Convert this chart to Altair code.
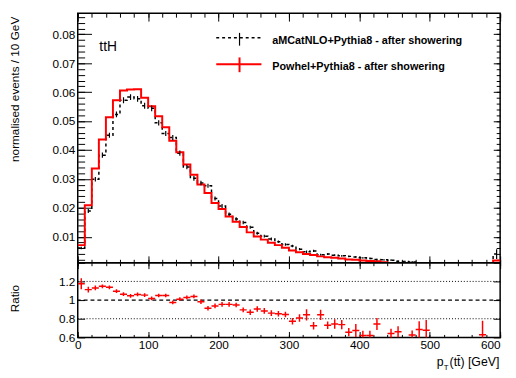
import altair as alt
import pandas as pd

# ---------------- data ----------------
bin_lo = list(range(0, 600, 10))

powheg = [0.0071, 0.0209, 0.0336, 0.0436, 0.0513, 0.0572, 0.0606, 0.0609, 0.0610, 0.0581,
          0.0551, 0.0517, 0.0479, 0.0432, 0.0392, 0.0350, 0.0314, 0.0281, 0.0251, 0.0217,
          0.0196, 0.0170, 0.0152, 0.0134, 0.0115, 0.0101, 0.0090, 0.0079, 0.0071, 0.0062,
          0.0052, 0.0046, 0.0040, 0.0037, 0.0032, 0.0029, 0.0027, 0.0025, 0.0021, 0.0020,
          0.0018, 0.0016, 0.0015, 0.0012, 0.0009, 0.0008, 0.0007, 0.0006, 0.0006, 0.0005,
          0.0004, 0.0004, 0.0003, 0.0003, 0.0003, 0.0002, 0.0002, 0.0002, 0.0002, 0.0018]

amcatnlo = [0.0061, 0.0189, 0.0299, 0.0382, 0.0451, 0.0523, 0.0572, 0.0583, 0.0577, 0.0553,
            0.0544, 0.0494, 0.0457, 0.0443, 0.0389, 0.0341, 0.0302, 0.0286, 0.0276, 0.0232,
            0.0206, 0.0178, 0.0161, 0.0149, 0.0133, 0.0112, 0.0102, 0.0092, 0.0083, 0.0073,
            0.0068, 0.0057, 0.0048, 0.0051, 0.0038, 0.0040, 0.0036, 0.0034, 0.0032, 0.0030,
            0.0027, 0.0025, 0.0021, 0.0020, 0.0019, 0.0015, 0.0014, 0.0013, 0.0009, 0.0008,
            0.0007, 0.0006, 0.0006, 0.0005, 0.0005, 0.0004, 0.0004, 0.0003, 0.0003, 0.0040]

amcatnlo_err = [0.0004, 0.0007, 0.0008, 0.0009, 0.0009, 0.0010, 0.0010, 0.0010, 0.0010, 0.0010,
                0.0010, 0.0009, 0.0009, 0.0009, 0.0009, 0.0008, 0.0008, 0.0008, 0.0007, 0.0007,
                0.0007, 0.0006, 0.0006, 0.0006, 0.0005, 0.0005, 0.0005, 0.0005, 0.0004, 0.0004,
                0.0004, 0.0004, 0.0004, 0.0004, 0.0003, 0.0003, 0.0003, 0.0003, 0.0003, 0.0003,
                0.0003, 0.0003, 0.0003, 0.0003, 0.0003, 0.0003, 0.0003, 0.0003, 0.0003, 0.0003,
                0.0003, 0.0003, 0.0003, 0.0003, 0.0003, 0.0003, 0.0003, 0.0003, 0.0003, 0.0017]

ratio = [1.175, 1.112, 1.130, 1.147, 1.137, 1.095, 1.063, 1.046, 1.060, 1.053,
         1.018, 1.049, 1.049, 0.975, 1.010, 1.028, 1.039, 0.982, 0.912, 0.937,
         0.954, 0.954, 0.947, 0.895, 0.870, 0.905, 0.884, 0.860, 0.853, 0.846,
         0.772, 0.807, 0.842, 0.726, 0.842, 0.730, 0.744, 0.737, 0.656, 0.674,
         0.620, 0.620, 0.744, None, 0.642, 0.660, None, 0.625, 0.684, 0.677,
         None, None, None, None, None, None, None, 0.628, None, None]

ratio_err = [0.060, 0.030, 0.025, 0.020, 0.020, 0.020, 0.020, 0.020, 0.020, 0.020,
             0.020, 0.020, 0.020, 0.020, 0.020, 0.020, 0.020, 0.025, 0.025, 0.025,
             0.025, 0.025, 0.025, 0.025, 0.030, 0.030, 0.030, 0.030, 0.030, 0.030,
             0.035, 0.040, 0.060, 0.040, 0.055, 0.040, 0.050, 0.050, 0.045, 0.070,
             0.050, 0.050, 0.065, None, 0.050, 0.060, None, 0.050, 0.090, 0.110,
             None, None, None, None, None, None, None, 0.150, None, None]

ratio_refs_dotted = [0.8, 1.2]
ratio_ref_dashed = [1.0]

x_major = [0, 100, 200, 300, 400, 500, 600]
x_minor = list(range(0, 601, 20))
y_major = [0.01, 0.02, 0.03, 0.04, 0.05, 0.06, 0.07, 0.08]
y_minor = [round(0.002 * k, 3) for k in range(1, 44)]
r_major = [0.6, 0.8, 1.0, 1.2, 1.4]
r_labels = [0.6, 0.8, 1.0, 1.2]

label_process = "ttH"
label_amc = "aMCatNLO+Pythia8 - after showering"
label_pow = "Powhel+Pythia8 - after showering"

# ---------------- layout constants ----------------
W, H1, H2 = 430, 254, 76
FONT = "Liberation Sans"
RED = "#ff0000"

step_df = pd.DataFrame({
    "x": bin_lo + [600],
    "pow": powheg + [powheg[-1]],
    "amc": amcatnlo + [amcatnlo[-1]],
})
bins_df = pd.DataFrame({
    "lo": bin_lo,
    "c": [b + 5 for b in bin_lo],
    "hi": [b + 10 for b in bin_lo],
    "elo": [v - e for v, e in zip(amcatnlo, amcatnlo_err)],
    "ehi": [v + e for v, e in zip(amcatnlo, amcatnlo_err)],
})
rows = [(lo, r, e) for lo, r, e in zip(bin_lo, ratio, ratio_err) if r is not None]
ratio_df = pd.DataFrame({
    "lo": [a for a, _, _ in rows],
    "hi": [a + 10 for a, _, _ in rows],
    "c": [a + 5 for a, _, _ in rows],
    "r": [r for _, r, _ in rows],
    "rlo": [r - e for _, r, e in rows],
    "rhi": [r + e for _, r, e in rows],
})

xs = alt.Scale(domain=[0, 600], nice=False, zero=False)
ys = alt.Scale(domain=[0.001, 0.0873], nice=False, zero=False)
rs = alt.Scale(domain=[0.6, 1.4], nice=False, zero=False)


def tick_axis(orient, offset, values, size):
    return alt.Axis(orient=orient, offset=offset, values=values, tickSize=size,
                    labels=False, domain=False, grid=False, title=None,
                    ticks=True, tickColor="black", tickWidth=1)


# ---------------- main panel ----------------
main_y_labels = alt.Axis(orient="left", values=y_major, format=".2f", ticks=False, tickSize=0,
                         domain=False, grid=False, labelPadding=3, labelFontSize=12,
                         title="normalised events / 10 GeV", titleX=-64, titleY=77,
                         titleAngle=270, titleFontSize=12, titleFontWeight="normal",
                         titleAlign="center", titleBaseline="middle")

red_line = alt.Chart(step_df).mark_line(interpolate="step-after", color=RED, strokeWidth=2,
                                         clip=True).encode(
    x=alt.X("x:Q", scale=xs, axis=tick_axis("top", -H1, x_major, 7)),
    y=alt.Y("pow:Q", scale=ys, axis=main_y_labels),
)
black_line = alt.Chart(step_df).mark_line(interpolate="step-after", color="black", strokeWidth=1.5,
                                           strokeDash=[3, 3], clip=True).encode(
    x=alt.X("x:Q", scale=xs, axis=tick_axis("top", -H1, x_minor, 3.5)),
    y=alt.Y("amc:Q", scale=ys, axis=tick_axis("right", -W, y_major, 14)),
)
black_err = alt.Chart(bins_df).mark_rule(color="black", strokeWidth=1.2, clip=True).encode(
    x=alt.X("c:Q", scale=xs, axis=tick_axis("bottom", -H1, x_major, 8)),
    y=alt.Y("elo:Q", scale=ys, axis=tick_axis("right", -W, y_minor, 7)),
    y2="ehi:Q",
)
inv1 = alt.Chart(step_df).mark_point(opacity=0).encode(
    x=alt.X("x:Q", scale=xs, axis=tick_axis("bottom", -H1, x_minor, 4)),
    y=alt.Y("pow:Q", scale=ys, axis=tick_axis("left", -W, y_major, 7)),
)
inv2 = alt.Chart(step_df).mark_point(opacity=0).encode(
    x=alt.X("x:Q", scale=xs, axis=None),
    y=alt.Y("pow:Q", scale=ys, axis=tick_axis("left", -W, y_minor, 4)),
)

one = pd.DataFrame({"t": [label_process]})
ttH_text = alt.Chart(one).mark_text(align="left", baseline="alphabetic", fontSize=14,
                                     font=FONT, color="black").encode(
    x=alt.value(22), y=alt.value(38.7), text="t:N")

leg_df_a = pd.DataFrame({"t": [label_amc]})
leg_df_p = pd.DataFrame({"t": [label_pow]})
leg_text_a = alt.Chart(leg_df_a).mark_text(align="left", baseline="alphabetic", fontSize=11,
                                            fontWeight="bold", font=FONT, color="black").encode(
    x=alt.value(198), y=alt.value(31.3), text="t:N")
leg_text_p = alt.Chart(leg_df_p).mark_text(align="left", baseline="alphabetic", fontSize=11,
                                            fontWeight="bold", font=FONT, color="black").encode(
    x=alt.value(198), y=alt.value(58), text="t:N")
leg_line_a = alt.Chart(leg_df_a).mark_rule(color="black", strokeWidth=1.5, strokeDash=[3, 3]).encode(
    x=alt.value(141), x2=alt.value(187), y=alt.value(25))
leg_tick_a = alt.Chart(leg_df_a).mark_rule(color="black", strokeWidth=1.2).encode(
    x=alt.value(164.7), y=alt.value(20), y2=alt.value(33))
leg_line_p = alt.Chart(leg_df_p).mark_rule(color=RED, strokeWidth=2).encode(
    x=alt.value(141), x2=alt.value(187), y=alt.value(52))
leg_tick_p = alt.Chart(leg_df_p).mark_rule(color=RED, strokeWidth=2).encode(
    x=alt.value(164.7), y=alt.value(45), y2=alt.value(60))

main = alt.layer(
    black_line, red_line, black_err, inv1, inv2,
    ttH_text, leg_line_a, leg_tick_a, leg_line_p, leg_tick_p, leg_text_a, leg_text_p,
).resolve_axis(x="independent", y="independent").properties(width=W, height=H1)

# ---------------- ratio panel ----------------
x_labels_axis = alt.Axis(orient="bottom", values=x_major, ticks=False, tickSize=0, domain=False,
                         grid=False, labelPadding=2, labelFontSize=12, title=None,
                         labelAlign={"condition": {"test": "datum.value == 600", "value": "right"},
                                     "value": "center"})
r_y_labels = alt.Axis(orient="left", values=r_labels, format="~g", ticks=False, tickSize=0,
                      domain=False, grid=False, labelPadding=3, labelFontSize=12,
                      title="Ratio", titleX=-64, titleY=36, titleAngle=270, titleFontSize=12,
                      titleFontWeight="normal", titleAlign="center", titleBaseline="middle")

ref_dot_df = pd.DataFrame({"lv": ratio_refs_dotted})
ref_dash_df = pd.DataFrame({"lv": ratio_ref_dashed})
ref_dot = alt.Chart(ref_dot_df).mark_rule(color="black", strokeWidth=1, strokeDash=[1, 2]).encode(
    y=alt.Y("lv:Q", scale=rs, axis=None))
ref_dash = alt.Chart(ref_dash_df).mark_rule(color="black", strokeWidth=1.2, strokeDash=[4, 3]).encode(
    y=alt.Y("lv:Q", scale=rs, axis=None))

r_h = alt.Chart(ratio_df).mark_rule(color=RED, strokeWidth=1.5, clip=True).encode(
    x=alt.X("lo:Q", scale=xs, axis=x_labels_axis),
    x2="hi:Q",
    y=alt.Y("r:Q", scale=rs, axis=r_y_labels),
)
r_v = alt.Chart(ratio_df).mark_rule(color=RED, strokeWidth=1.5, clip=True).encode(
    x=alt.X("c:Q", scale=xs, axis=tick_axis("top", -H2, x_major, 6)),
    y=alt.Y("rlo:Q", scale=rs, axis=tick_axis("right", -W, r_major, 7)),
    y2="rhi:Q",
)
rinv1 = alt.Chart(ratio_df).mark_point(opacity=0).encode(
    x=alt.X("c:Q", scale=xs, axis=tick_axis("top", -H2, x_minor, 3)),
    y=alt.Y("r:Q", scale=rs, axis=tick_axis("left", -W, r_major, 7)),
)
rinv2 = alt.Chart(ratio_df).mark_point(opacity=0).encode(
    x=alt.X("c:Q", scale=xs, axis=tick_axis("bottom", -H2, x_major, 6)),
    y=alt.Y("r:Q", scale=rs, axis=None),
)
rinv3 = alt.Chart(ratio_df).mark_point(opacity=0).encode(
    x=alt.X("c:Q", scale=xs, axis=tick_axis("bottom", -H2, x_minor, 3)),
    y=alt.Y("r:Q", scale=rs, axis=None),
)

xt_df = pd.DataFrame({"p": ["p"], "s": ["T"], "rest": ["(tt\u0304) [GeV]"]})
xt_p = alt.Chart(xt_df).mark_text(align="left", baseline="alphabetic", fontSize=12.5, font=FONT,
                                  color="black").encode(x=alt.value(365.5), y=alt.value(105), text="p:N")
xt_s = alt.Chart(xt_df).mark_text(align="left", baseline="alphabetic", fontSize=8, font=FONT,
                                  color="black").encode(x=alt.value(372.5), y=alt.value(109), text="s:N")
xt_r = alt.Chart(xt_df).mark_text(align="left", baseline="alphabetic", fontSize=12.5, font=FONT,
                                  color="black").encode(x=alt.value(378.5), y=alt.value(105), text="rest:N")

ratio_panel = alt.layer(
    ref_dot, ref_dash, r_h, r_v, rinv1, rinv2, rinv3, xt_p, xt_s, xt_r,
).resolve_axis(x="independent", y="independent").properties(width=W, height=H2)

chart = alt.vconcat(main, ratio_panel, spacing=0, bounds="flush").properties(
    padding={"left": 0, "top": 0, "right": 4, "bottom": 2},
    background="white",
).configure_view(stroke="black", strokeWidth=1.5).configure_axis(
    labelFont=FONT, titleFont=FONT, labelColor="black", titleColor="black"
).configure_text(font=FONT)

chart.save("out.html", embed_options={"renderer": "svg", "actions": False})
